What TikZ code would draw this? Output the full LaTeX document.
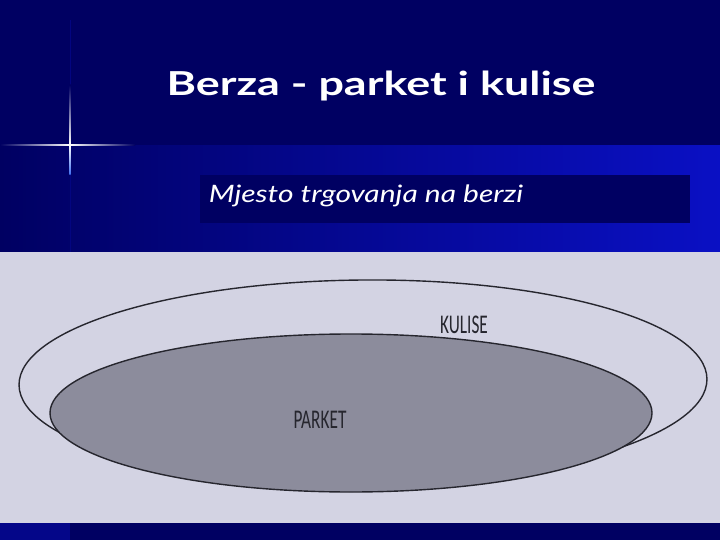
\documentclass[tikz,border=0pt]{standalone}
\usepackage{fontspec}
\setmainfont{Lato}
\newfontfamily\labelfont{Carlito}
\usepackage{tikz}
\definecolor{navy}{HTML}{000062}
\definecolor{slideblue}{HTML}{0A10C4}
\definecolor{flareblue}{HTML}{3C6CF0}
\definecolor{paper}{HTML}{D3D3E3}
\definecolor{inkgray}{HTML}{8C8C9C}
\definecolor{ink}{HTML}{26262E}

\begin{document}
\begin{tikzpicture}[x=1pt,y=1pt]
\tikzstyle{every node}+=[inner sep=0pt]
\tikzstyle{oval}=[draw=ink, line width=1.4pt]
\tikzstyle{scanlabel}=[text=ink, font=\labelfont\fontsize{27}{27}\selectfont, xscale=0.64]
\useasboundingbox (0,0) rectangle (720,-540);
\fill [navy] (0,0) rectangle (720,-540);
\shade [left color=navy, right color=slideblue] (0,-146) rectangle (720,-252);
\fill [navy] (200,-175) rectangle (690,-223);
\draw [navy!70!slideblue, line width=0.8pt] (70,-20) -- (70,-252);
\shade [left color=navy, right color=white] (0,-144.4) rectangle (70,-145.8);
\shade [left color=white, right color=navy] (70,-144.4) rectangle (135,-145.8);
\shade [top color=navy, bottom color=white] (69.3,-85) rectangle (70.7,-145);
\shade [top color=white, bottom color=flareblue] (69.3,-145) rectangle (70.7,-175);
\fill [paper] (0,-252) rectangle (720,-523);
\fill [navy!60!slideblue] (0,-523) rectangle (70,-540);
\draw [oval, rotate around={0.5:(363,-382)}] (363,-382) ellipse [x radius=344, y radius=102];
\draw [oval, fill=inkgray] (351,-413) ellipse [x radius=301, y radius=79];
\node (title) [anchor=base, text=white, xscale=1.36, font=\bfseries\fontsize{33}{33}\selectfont] at (381,-96) {Berza - parket i kulise};
\node (subtitle) [anchor=base, text=white, xscale=1.25, font=\itshape\fontsize{24}{24}\selectfont] at (366,-203) {Mjesto trgovanja na berzi};
\node (kulise) [scanlabel, anchor=base] at (464,-333) {KULISE};
\node (parket) [scanlabel, anchor=base] at (320,-428) {PARKET};
\end{tikzpicture}
\end{document}
